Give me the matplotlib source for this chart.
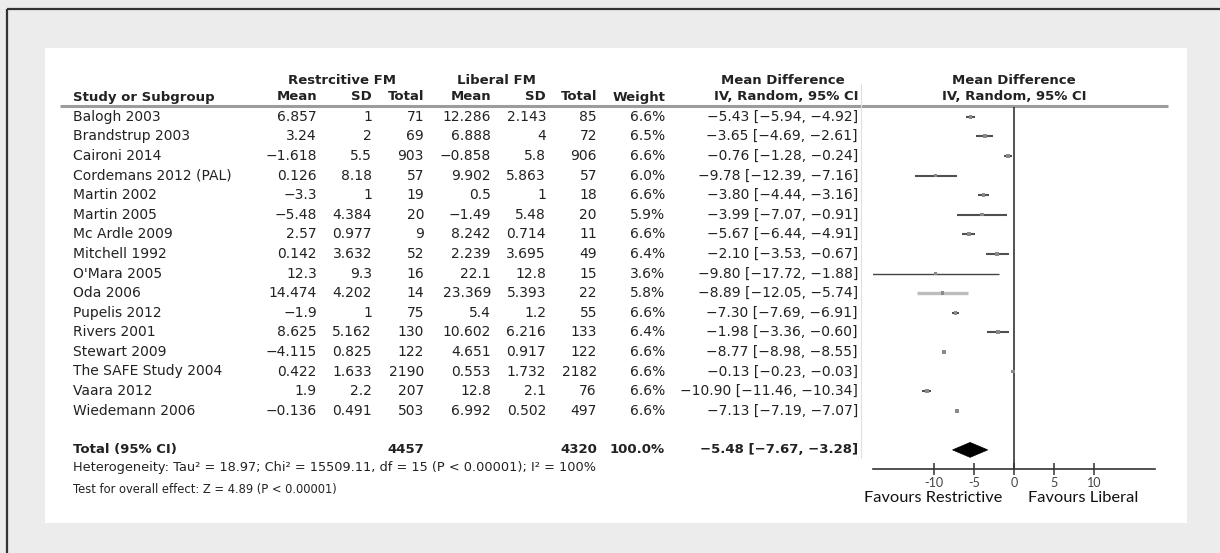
import matplotlib
matplotlib.use('Agg')
import matplotlib.pyplot as plt
from matplotlib.patches import Polygon, Rectangle


# ===== DATA =====
studies = ['Balogh 2003', 'Brandstrup 2003', 'Caironi 2014', 'Cordemans 2012 (PAL)',
           'Martin 2002', 'Martin 2005', 'Mc Ardle 2009', 'Mitchell 1992', "O'Mara 2005",
           'Oda 2006', 'Pupelis 2012', 'Rivers 2001', 'Stewart 2009', 'The SAFE Study 2004',
           'Vaara 2012', 'Wiedemann 2006']
r_mean = [6.857, 3.24, -1.618, 0.126, -3.3, -5.48, 2.57, 0.142, 12.3, 14.474, -1.9, 8.625, -4.115, 0.422, 1.9, -0.136]
r_sd = [1, 2, 5.5, 8.18, 1, 4.384, 0.977, 3.632, 9.3, 4.202, 1, 5.162, 0.825, 1.633, 2.2, 0.491]
r_total = [71, 69, 903, 57, 19, 20, 9, 52, 16, 14, 75, 130, 122, 2190, 207, 503]
l_mean = [12.286, 6.888, -0.858, 9.902, 0.5, -1.49, 8.242, 2.239, 22.1, 23.369, 5.4, 10.602, 4.651, 0.553, 12.8, 6.992]
l_sd = [2.143, 4, 5.8, 5.863, 1, 5.48, 0.714, 3.695, 12.8, 5.393, 1.2, 6.216, 0.917, 1.732, 2.1, 0.502]
l_total = [85, 72, 906, 57, 18, 20, 11, 49, 15, 22, 55, 133, 122, 2182, 76, 497]
weights = [6.6, 6.5, 6.6, 6.0, 6.6, 5.9, 6.6, 6.4, 3.6, 5.8, 6.6, 6.4, 6.6, 6.6, 6.6, 6.6]
md = [-5.43, -3.65, -0.76, -9.78, -3.80, -3.99, -5.67, -2.10, -9.80, -8.89, -7.30, -1.98, -8.77, -0.13, -10.90, -7.13]
ci_low = [-5.94, -4.69, -1.28, -12.39, -4.44, -7.07, -6.44, -3.53, -17.72, -12.05, -7.69, -3.36, -8.98, -0.23, -11.46, -7.19]
ci_high = [-4.92, -2.61, -0.24, -7.16, -3.16, -0.91, -4.91, -0.67, -1.88, -5.74, -6.91, -0.60, -8.55, -0.03, -10.34, -7.07]

total_r = 4457
total_l = 4320
total_weight = 100.0
total_md, total_low, total_high = -5.48, -7.67, -3.28

heterogeneity = 'Heterogeneity: Tau² = 18.97; Chi² = 15509.11, df = 15 (P < 0.00001); I² = 100%'
overall = 'Test for overall effect: Z = 4.89 (P < 0.00001)'
xticks = [-10, -5, 0, 5, 10]


# ===== HELPERS =====
def num(v):
    return f'{v:g}'.replace('-', '\u2212')

def ci_text(m, lo, hi):
    return f'{m:.2f} [{lo:.2f}, {hi:.2f}]'.replace('-', '\u2212')

# layout (pixels)
W, H = 1220, 553
row0, dy = 116.7, 19.6
total_row = len(studies) + 1
def row_y(i):
    return row0 + dy * i

col_study = 73
cols_right = [317, 372, 424, 491, 546, 597, 665, 858]
txt = '#222222'
FS = 10


# ===== FIGURE =====
fig = plt.figure(figsize=(W / 100, H / 100), dpi=100)
fig.patch.set_facecolor('#ebeceb')

bg = fig.add_axes([0, 0, 1, 1], zorder=0)
bg.set_xlim(0, W)
bg.set_ylim(H, 0)
bg.set_axis_off()

# outer frame (top + left only) and white panel
bg.plot([7, W], [9, 9], color='#333333', lw=1.6, solid_capstyle='butt')
bg.plot([7, 7], [9, H], color='#333333', lw=1.6, solid_capstyle='butt')
bg.add_patch(Rectangle((45, 48), 1187 - 45, 523 - 48, facecolor='white', edgecolor='none'))

# header rule
bg.plot([60, 1168], [106, 106], color='#9c9c9c', lw=2.2, solid_capstyle='butt')
# faint left edge of the plot image
bg.plot([861, 861], [84, 458], color='#e0e0e0', lw=0.8)

# group headers
bg.text(342, 80, 'Restrcitive FM', ha='center', va='center', fontsize=9.5, fontweight='bold', color=txt)
bg.text(496, 80, 'Liberal FM', ha='center', va='center', fontsize=9.5, fontweight='bold', color=txt)
bg.text(783, 80, 'Mean Difference', ha='center', va='center', fontsize=9.5, fontweight='bold', color=txt)
bg.text(1014, 80, 'Mean Difference', ha='center', va='center', fontsize=9.5, fontweight='bold', color=txt)

heads = ['Mean', 'SD', 'Total', 'Mean', 'SD', 'Total', 'Weight', 'IV, Random, 95% CI']
bg.text(col_study, 97, 'Study or Subgroup', ha='left', va='center', fontsize=9.5, fontweight='bold', color=txt)
for x, h in zip(cols_right, heads):
    bg.text(x, 97, h, ha='right', va='center', fontsize=9.5, fontweight='bold', color=txt)
bg.text(1014, 97, 'IV, Random, 95% CI', ha='center', va='center', fontsize=9.5, fontweight='bold', color=txt)

# study rows
for i, s in enumerate(studies):
    y = row_y(i)
    vals = [num(r_mean[i]), num(r_sd[i]), str(r_total[i]), num(l_mean[i]), num(l_sd[i]),
            str(l_total[i]), f'{weights[i]:.1f}%', ci_text(md[i], ci_low[i], ci_high[i])]
    bg.text(col_study, y, s, ha='left', va='center', fontsize=FS, color=txt)
    for x, v in zip(cols_right, vals):
        bg.text(x, y, v, ha='right', va='center', fontsize=FS, color=txt)

# total row
yt = row_y(total_row)
bg.text(col_study, yt, 'Total (95% CI)', ha='left', va='center', fontsize=9.5, fontweight='bold', color=txt)
for x, v in zip([cols_right[2], cols_right[5], cols_right[6], cols_right[7]],
                [str(total_r), str(total_l), f'{total_weight:.1f}%',
                 ci_text(total_md, total_low, total_high)]):
    bg.text(x, yt, v, ha='right', va='center', fontsize=9.5, fontweight='bold', color=txt)

bg.text(col_study, 468, heterogeneity, ha='left', va='center', fontsize=9.3, color=txt)
bg.text(col_study, 489, overall, ha='left', va='center', fontsize=8.3, color=txt)

# ===== FOREST PLOT =====
fx0, fx1, fy0, fy1 = 873, 1155, 107, 469
axf = fig.add_axes([fx0 / W, 1 - fy1 / H, (fx1 - fx0) / W, (fy1 - fy0) / H], zorder=1)
axf.patch.set_alpha(0)
axf.set_xlim(-17.6, 17.6)
axf.set_ylim((fy1 - row0) / dy, (fy0 - row0) / dy)
for sp in ['top', 'left', 'right']:
    axf.spines[sp].set_visible(False)
axf.spines['bottom'].set_color('#333333')
axf.spines['bottom'].set_linewidth(1.2)
axf.set_yticks([])
axf.set_xticks(xticks)
axf.set_xticklabels([str(t) for t in xticks], family='Lato', color='#444444')
axf.tick_params(axis='x', direction='inout', length=9, width=1.1, color='#333333', labelsize=9, pad=1)

axf.axvline(0, color='#333333', lw=1.2)

line_style = {"O'Mara 2005": ('#444444', 1.0), 'Oda 2006': ('#bdbdbd', 2.4)}
for i, s in enumerate(studies):
    c, lw = line_style.get(s, ('#505050', 1.5))
    axf.plot([ci_low[i], ci_high[i]], [i, i], color=c, lw=lw, solid_capstyle='butt')
axf.scatter(md, range(len(studies)), s=[(w * 0.42) ** 2 for w in weights], marker='s',
            color='#8a8a8a', edgecolors='none', zorder=3)

hh = 0.38
axf.add_patch(Polygon([(total_low, total_row), (total_md, total_row - hh),
                       (total_high, total_row), (total_md, total_row + hh)],
                      closed=True, facecolor='black', edgecolor='black', lw=0.5))

bg.text(933, 498, 'Favours Restrictive', ha='center', va='center', fontsize=11.8, family='Lato', color='#111111')
bg.text(1083, 498, 'Favours Liberal', ha='center', va='center', fontsize=11.8, family='Lato', color='#111111')

fig.savefig('out.png', dpi=100, facecolor=fig.get_facecolor())
